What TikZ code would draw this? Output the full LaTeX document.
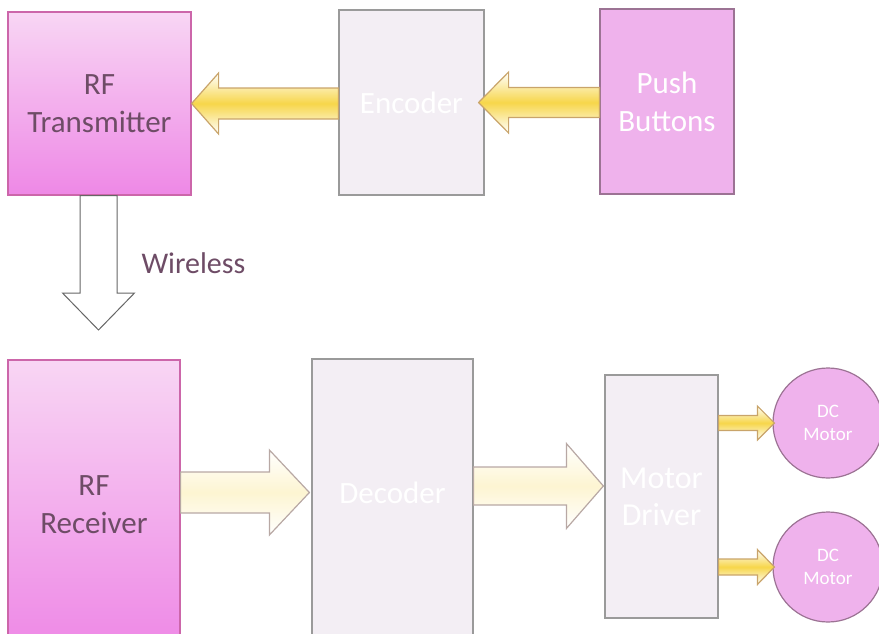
\documentclass[tikz,border=0pt]{standalone}
\usepackage{fontspec}
\setmainfont{Carlito}
\usetikzlibrary{calc}

\definecolor{pinktop}{HTML}{F8D6F4}
\definecolor{pinkbot}{HTML}{EE88E6}
\definecolor{pinkedge}{HTML}{CC66AA}
\definecolor{lavfill}{HTML}{F3EEF4}
\definecolor{grayedge}{HTML}{9A9A9A}
\definecolor{pushfill}{HTML}{EFB2EC}
\definecolor{pushedge}{HTML}{9C7394}
\definecolor{darktext}{HTML}{6E4C66}
\definecolor{tanedge}{HTML}{C9A46A}
\definecolor{arrowyellow}{HTML}{F7D64A}
\definecolor{softedge}{HTML}{B8A8A4}

% horizontal block arrow: #1 style, #2 tail, #3 tip, #4 shaft half-width,
% #5 head half-width, #6 signed head length (towards the tail)
\newcommand\hblockarrow[6]{%
  \path[#1] let \p1=(#2), \p2=(#3) in
    (\x1,\y2+#4) -- (\x2+#6,\y2+#4) -- (\x2+#6,\y2+#5) -- (\x2,\y2)
    -- (\x2+#6,\y2-#5) -- (\x2+#6,\y2-#4) -- (\x1,\y2-#4) -- cycle;}

\tikzset{
  box/.style={draw, line width=1.2pt, rectangle, inner sep=0pt, align=center,
    font=\fontsize{31}{38}\selectfont},
  pinkbox/.style={box, draw=pinkedge, top color=pinktop, bottom color=pinkbot,
    text=darktext},
  lavbox/.style={box, draw=grayedge, fill=lavfill, text=white},
  motor/.style={draw=pushedge, line width=1.2pt, circle, fill=pushfill,
    minimum size=110pt, inner sep=0pt, align=center, text=white,
    font=\fontsize{19}{23}\selectfont},
  yarrow/.style={draw=tanedge, line width=1.2pt, shade, top color=white,
    bottom color=white, middle color=arrowyellow},
  paleyarrow/.style={draw=softedge, line width=1.2pt, shade, top color=white,
    bottom color=white, middle color=arrowyellow!25},
  warrow/.style={draw=black!60, line width=1pt, fill=white},
}

\begin{document}
\begin{tikzpicture}[x=1pt, y=-1pt]
\useasboundingbox (0,0) rectangle (879,633);

% top row
\node[pinkbox, minimum width=183pt, minimum height=183pt] (tx) at (99.5,103.5)
  {RF\\Transmitter};
\node[lavbox, minimum width=145pt, minimum height=185pt] (enc) at (411.5,102.5)
  {Encoder};
\node[box, draw=pushedge, fill=pushfill, text=white, minimum width=134pt,
  minimum height=185pt] (push) at (667,101.5) {Push\\Buttons};

% bottom row
\node[pinkbox, minimum width=172pt, minimum height=290pt] (rx) at (94,505)
  {RF\\Receiver};
\node[lavbox, minimum width=161pt, minimum height=290pt] (dec) at (392.5,504)
  {};
\node[font=\fontsize{31}{38}\selectfont, text=white] at (dec.center |- 0,493)
  {Decoder};
\node[lavbox, minimum width=113pt, minimum height=243pt,
  font=\fontsize{32}{37}\selectfont] (md) at (661.5,496.5) {Motor\\Driver};
\node[motor] (m1) at (828,423) {DC\\Motor};
\node[motor] (m2) at (828,567) {DC\\Motor};

% top arrows
\hblockarrow{yarrow}{enc.west}{tx.east}{15.5pt}{30.5pt}{27pt}
\hblockarrow{yarrow}{push.west}{[xshift=-6pt]enc.east}{15pt}{30.5pt}{30pt}

% wireless link
\coordinate (wtip) at (98.5,330);
\path[warrow] let \p1=(tx.south), \p2=(wtip) in
  (\x2-18.5pt,\y1) -- (\x2-18.5pt,\y2+37pt) -- (\x2-36pt,\y2+37pt) -- (\x2,\y2)
  -- (\x2+36pt,\y2+37pt) -- (\x2+18.5pt,\y2+37pt) -- (\x2+18.5pt,\y1) -- cycle;
\node[anchor=west, text=darktext, font=\fontsize{30}{36}\selectfont] (wl)
  at (138,263) {Wireless};

% bottom arrows
\coordinate (rxlvl) at (0,492.5);
\coordinate (declvl) at (0,486);
\hblockarrow{paleyarrow}{rx.east |- rxlvl}{[xshift=-2pt]dec.west |- rxlvl}{20.5pt}{42.5pt}{-40pt}
\hblockarrow{paleyarrow}{dec.east |- declvl}{[xshift=-1pt]md.west |- declvl}{19pt}{42.5pt}{-37pt}
\hblockarrow{yarrow}{md.east |- m1.center}{[xshift=2pt]m1.west}{7.5pt}{17pt}{-17pt}
\hblockarrow{yarrow}{md.east |- m2.center}{[xshift=2pt]m2.west}{8pt}{17.5pt}{-17pt}

\end{tikzpicture}
\end{document}
